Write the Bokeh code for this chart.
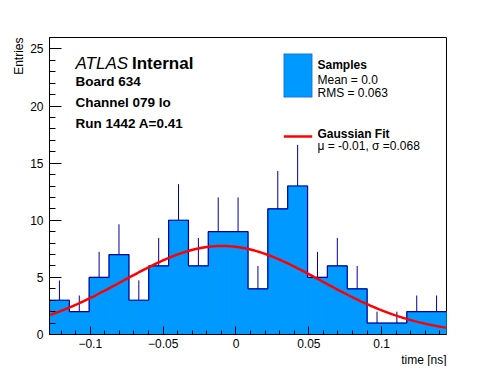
import numpy as np
from bokeh.plotting import figure
from bokeh.models import (Range1d, FixedTicker, CustomJSTickFormatter, Title, Label,
                          BoxAnnotation)
from bokeh.embed import file_html
from bokeh.resources import INLINE

# ---- data ----
hist_lo = -0.128
hist_hi = 0.1445
n_bins = 20
counts = [3, 2, 5, 7, 3, 6, 10, 6, 9, 9, 4, 11, 13, 5, 6, 4, 1, 1, 2, 2]

fit_amp = 7.75
fit_mu = -0.0095
fit_sigma = 0.068

x_ticks = [-0.1, -0.05, 0.0, 0.05, 0.1]
x_tick_labels = ["\u22120.1", "\u22120.05", "0", "0.05", "0.1"]
y_ticks = [0, 5, 10, 15, 20, 25]

FONT = "Liberation Sans"
FILL = "#0099ff"
EDGE = "#000099"

edges = np.linspace(hist_lo, hist_hi, n_bins + 1)
cnt = np.array(counts, dtype=float)
centers = 0.5 * (edges[:-1] + edges[1:])

p = figure(frame_width=397, frame_height=297,
           x_range=Range1d(hist_lo, hist_hi), y_range=Range1d(0, 26),
           output_backend="svg", toolbar_location=None,
           min_border_left=49, min_border_top=37, min_border_right=45,
           min_border_bottom=26)
p.background_fill_color = "white"
p.border_fill_color = "white"
p.outline_line_color = "black"
p.outline_line_width = 1
p.xgrid.visible = False
p.ygrid.visible = False

# histogram
p.quad(left=edges[:-1], right=edges[1:], bottom=0, top=cnt,
       fill_color=FILL, line_color=FILL, line_width=1)
# error bars (upper half)
p.segment(x0=centers, y0=cnt, x1=centers, y1=cnt + np.sqrt(cnt),
          line_color=EDGE, line_width=1)
# outline
sx = np.repeat(edges, 2)[1:-1]
sy = np.repeat(cnt, 2)
p.line(sx, sy, line_color=EDGE, line_width=1.2)

# gaussian fit
fx = np.linspace(hist_lo, hist_hi, 400)
fy = fit_amp * np.exp(-0.5 * ((fx - fit_mu) / fit_sigma) ** 2)
p.line(fx, fy, line_color="#ff0000", line_width=2.5)

# axes
xa = p.xaxis[0]
xa.ticker = FixedTicker(ticks=x_ticks,
                        minor_ticks=list(np.round(np.arange(-0.12, 0.145, 0.01), 3)))
xa.formatter = CustomJSTickFormatter(args=dict(tpos=x_ticks, tlab=x_tick_labels), code="""
    let best = 0; let d = 1e9;
    for (let i = 0; i < tpos.length; i++) {
        const dd = Math.abs(tpos[i] - tick);
        if (dd < d) { d = dd; best = i; }
    }
    return tlab[best];
""")
xa.major_tick_in = 8
xa.major_tick_out = 0
xa.minor_tick_in = 4
xa.minor_tick_out = 0
xa.major_label_standoff = 4
xa.major_label_text_font = FONT
xa.major_label_text_font_size = "12px"
xa.major_label_text_color = "black"
xa.axis_line_color = "black"

ya = p.yaxis[0]
ya.ticker = FixedTicker(ticks=y_ticks, minor_ticks=list(range(0, 27)))
ya.major_tick_in = 12
ya.major_tick_out = 0
ya.minor_tick_in = 6
ya.minor_tick_out = 0
ya.major_label_standoff = 6
ya.major_label_text_font = FONT
ya.major_label_text_font_size = "12px"
ya.major_label_text_color = "black"
ya.axis_line_color = "black"

p.add_layout(Title(text="time [ns]", align="right", text_font=FONT, text_color="black",
                   text_font_size="12px", text_font_style="normal", standoff=0), "below")
p.add_layout(Title(text="Entries", align="right", text_font=FONT, text_color="black",
                   text_font_size="12px", text_font_style="normal", standoff=4), "left")

# text annotations (screen units relative to frame)
def lab(x, y, t, size, style="normal"):
    p.add_layout(Label(x=x, y=y, x_units="screen", y_units="screen", text=t,
                       text_font=FONT, text_font_size=size, text_font_style=style,
                       text_color="black", text_baseline="alphabetic"))

lab(26, 271, "ATLAS", "17px", "italic")
lab(82.5, 271, "Internal", "17px", "bold")
lab(26, 253, "Board 634", "13.5px", "bold")
lab(26, 232, "Channel 079 lo", "13.5px", "bold")
lab(26, 211, "Run 1442 A=0.41", "13.5px", "bold")

lab(268, 269.3, "Samples", "12px", "bold")
lab(268, 254.7, "Mean = 0.0", "12px")
lab(268, 242, "RMS = 0.063", "12px")
lab(268, 200.7, "Gaussian Fit", "12px", "bold")
lab(268, 189, "\u03bc = -0.01, \u03c3 =0.068", "12px")

p.add_layout(BoxAnnotation(left=234.3, right=262.7, bottom=237.3, top=280.7,
                           left_units="screen", right_units="screen",
                           bottom_units="screen", top_units="screen",
                           fill_color=FILL, fill_alpha=1, line_color=EDGE, line_width=1))
p.add_layout(BoxAnnotation(left=234.3, right=262.7, bottom=196.8, top=199.2,
                           left_units="screen", right_units="screen",
                           bottom_units="screen", top_units="screen",
                           fill_color="#ff0000", fill_alpha=1, line_color=None))

open("out.html", "w").write(file_html(p, INLINE))
